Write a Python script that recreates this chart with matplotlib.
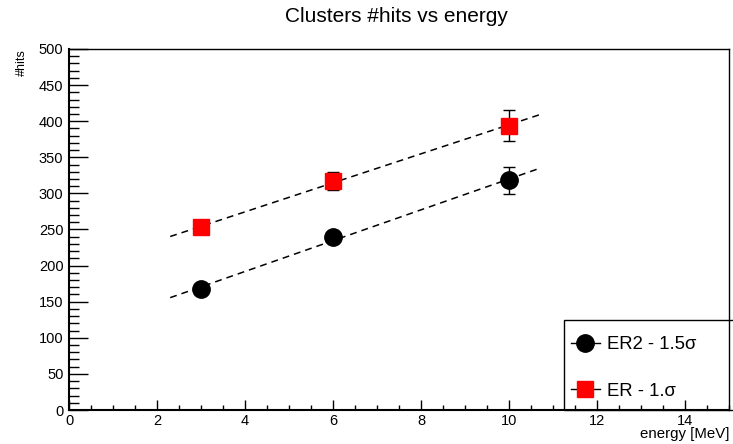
import numpy as np
import matplotlib
matplotlib.use("Agg")
import matplotlib.pyplot as plt
from matplotlib.lines import Line2D
from matplotlib.patches import Rectangle
from matplotlib.ticker import MultipleLocator

plt.rcParams['font.family'] = ['Liberation Sans', 'DejaVu Sans']

# energy points [MeV] and mean cluster hits
energy = [3, 6, 10]
hits_er2 = [168, 239, 318]
err_er2 = [5, 5, 18.5]
hits_er = [253, 317, 394]
err_er = [5, 12.5, 22]
fit_range = (2.3, 10.7)

W, H = 733, 444
fig = plt.figure(figsize=(W / 100, H / 100), dpi=100)
ax = fig.add_axes([69 / W, 1 - 410 / H, (729 - 69) / W, (410 - 49) / H])

# straight line fits
xf = np.linspace(fit_range[0], fit_range[1], 50)
for yv in (hits_er2, hits_er):
    p = np.polyfit(energy, yv, 1)
    ax.plot(xf, np.polyval(p, xf), color='black', lw=1.1, ls=(0, (4.5, 3.3)), zorder=2)

ax.errorbar(energy, hits_er2, yerr=err_er2, fmt='o', color='black', ms=12.5,
            ecolor='black', elinewidth=1, capsize=4, capthick=1, zorder=3)
ax.errorbar(energy, hits_er, yerr=err_er, fmt='s', color='red', mec='red', ms=12,
            ecolor='black', elinewidth=1, capsize=4, capthick=1, zorder=3)

ax.set_xlim(0, 15)
ax.set_ylim(0, 500)
ax.xaxis.set_major_locator(MultipleLocator(2))
ax.xaxis.set_minor_locator(MultipleLocator(0.5))
ax.yaxis.set_major_locator(MultipleLocator(50))
ax.yaxis.set_minor_locator(MultipleLocator(10))
ax.tick_params(axis='both', which='both', direction='in', top=False, right=False,
               labelsize=10.5, width=1, color='black')
ax.tick_params(axis='y', which='major', length=13.7, pad=4)
ax.tick_params(axis='y', which='minor', length=7)
ax.tick_params(axis='x', which='major', length=7.2, pad=3)
ax.tick_params(axis='x', which='minor', length=3.6)
for s in ax.spines.values():
    s.set_linewidth(1)
ax.spines['left'].set_linewidth(1.5)
ax.spines['bottom'].set_linewidth(1.5)

fig.text(396 / W, 1 - 16 / H, 'Clusters #hits vs energy', ha='center', va='center', fontsize=15)
fig.text(22 / W, 1 - 49 / H, '#hits', rotation=90, ha='center', va='top', fontsize=9)
fig.text(729 / W, 1 - 434 / H, 'energy [MeV]', ha='right', va='center', fontsize=10.8)

# legend box
fig.patches.append(Rectangle((564 / W, 1 - 410 / H), (740 - 564) / W, 90 / H,
                             transform=fig.transFigure, fill=False, ec='black', lw=1,
                             zorder=5))
handles = [Line2D([], [], color='black', marker='o', ms=12.5, lw=1),
           Line2D([], [], color='black', marker='s', mfc='red', mec='red', ms=12, lw=1)]
fig.legend(handles, ['ER2 - 1.5σ', 'ER - 1.σ'], loc='upper left',
           bbox_to_anchor=(571 / W, 1 - 336 / H), frameon=False, fontsize=13.3,
           handlelength=1.55, handletextpad=0.4, labelspacing=1.62,
           borderpad=0, borderaxespad=0)

fig.savefig('out.png', dpi=100)
